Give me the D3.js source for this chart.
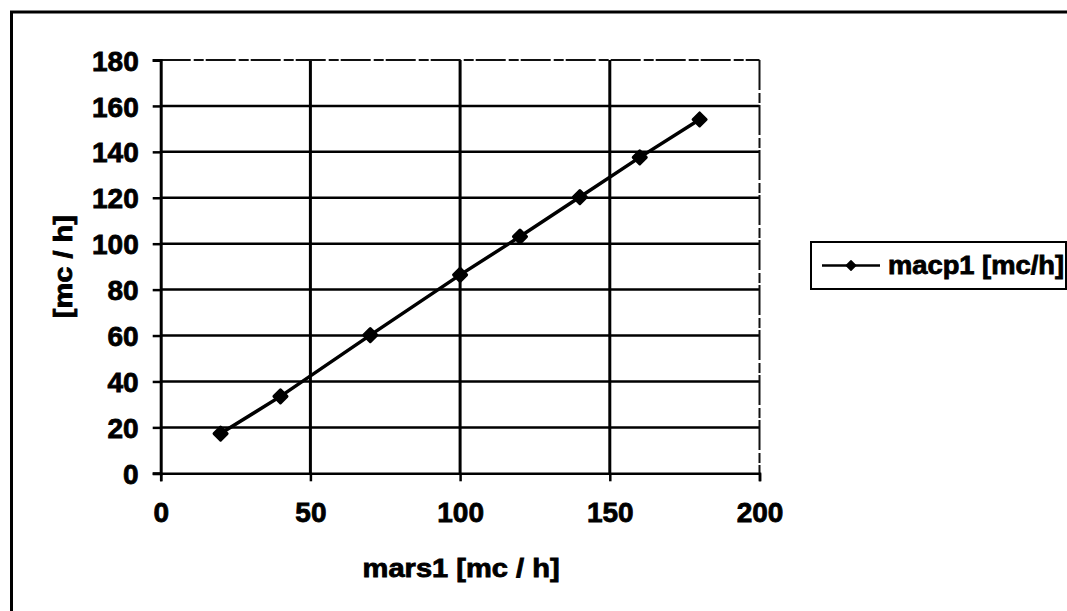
<!DOCTYPE html>
<html>
<head>
<meta charset="utf-8">
<script src="https://cdn.jsdelivr.net/npm/d3@7"></script>
<style>
  html, body { margin: 0; padding: 0; background: #fff; }
  svg { display: block; }
  text { font-family: "Liberation Sans", Arial, sans-serif; font-weight: bold; fill: #000;
         stroke: #000; stroke-width: 0.8px; }
</style>
</head>
<body>
<svg id="chart" width="1067" height="611"></svg>
<script>
// Flow readings: mars1 (x) against macp1 (y), both in mc/h
const xValues = [20, 40, 70, 100, 120, 140, 160, 180];
const yValues = [17.3, 33.5, 60.2, 86.4, 103.1, 120.3, 137.6, 154.1];
const xTicks = [0, 50, 100, 150, 200];
const yTicks = [0, 20, 40, 60, 80, 100, 120, 140, 160, 180];
const seriesName = "macp1 [mc/h]";
const xTitle = "mars1 [mc / h]";
const yTitle = "[mc / h]";

const svg = d3.select("#chart");
const W = 1067, H = 611;
const plot = { left: 160.7, right: 759.5, top: 60, bottom: 473.3 };

const x = d3.scaleLinear().domain([0, 200]).range([plot.left, plot.right]);
const y = d3.scaleLinear().domain([0, 180]).range([plot.bottom, plot.top]);

// outer chart frame (only top and left edges fall inside the view)
svg.append("line").attr("x1", 10).attr("x2", W).attr("y1", 12).attr("y2", 12)
  .attr("stroke", "#000").attr("stroke-width", 3);
svg.append("line").attr("x1", 11.5).attr("x2", 11.5).attr("y1", 11).attr("y2", H)
  .attr("stroke", "#000").attr("stroke-width", 3);

// horizontal gridlines
const gh = svg.append("g");
gh.selectAll("line").data(yTicks.filter(t => t > 0 && t < 180)).join("line")
  .attr("x1", plot.left).attr("x2", plot.right)
  .attr("y1", d => y(d)).attr("y2", d => y(d))
  .attr("stroke", "#000").attr("stroke-width", 2.5);
// vertical gridlines
const gv = svg.append("g");
gv.selectAll("line").data(xTicks.filter(t => t > 0 && t < 200)).join("line")
  .attr("x1", d => x(d)).attr("x2", d => x(d))
  .attr("y1", plot.top).attr("y2", plot.bottom)
  .attr("stroke", "#000").attr("stroke-width", 3);

// plot-area border on top and right
svg.append("line").attr("x1", plot.left).attr("x2", plot.right).attr("y1", y(180)).attr("y2", y(180))
  .attr("stroke", "#111").attr("stroke-width", 2).attr("stroke-dasharray", "30 3 10 2");
svg.append("line").attr("x1", x(200)).attr("x2", x(200)).attr("y1", plot.top).attr("y2", plot.bottom)
  .attr("stroke", "#111").attr("stroke-width", 2).attr("stroke-dasharray", "30 3 10 2");

// y axis
const yAxis = d3.axisLeft(y).tickValues(yTicks).tickSize(8).tickPadding(14).tickFormat(d3.format("d"));
const gy = svg.append("g").attr("transform", `translate(${plot.left},0)`).call(yAxis);
gy.select(".domain").attr("stroke", "#000").attr("stroke-width", 3);
gy.selectAll(".tick line").attr("stroke", "#000").attr("stroke-width", 2.5);
gy.selectAll(".tick text").style("font-size", "28px").attr("dy", "0.36em");

// x axis
const xAxis = d3.axisBottom(x).tickValues(xTicks).tickSize(8).tickPadding(21).tickFormat(d3.format("d"));
const gx = svg.append("g").attr("transform", `translate(0,${plot.bottom})`).call(xAxis);
gx.select(".domain").attr("stroke", "#000").attr("stroke-width", 2.5);
gx.selectAll(".tick line").attr("stroke", "#000").attr("stroke-width", 2.5);
gx.selectAll(".tick text").style("font-size", "28px").attr("dy", "0.71em");

// axis titles
svg.append("text").attr("x", (plot.left + plot.right) / 2 + 1).attr("y", 577)
  .attr("text-anchor", "middle").style("font-size", "25px")
  .attr("textLength", 197).attr("lengthAdjust", "spacingAndGlyphs").text(xTitle);
svg.append("text").attr("transform", `translate(72,${(plot.top + plot.bottom) / 2}) rotate(-90)`)
  .attr("text-anchor", "middle").style("font-size", "26px")
  .attr("textLength", 103).attr("lengthAdjust", "spacingAndGlyphs").text(yTitle);

// series line and diamond markers
const pts = xValues.map((v, i) => [v, yValues[i]]);
svg.append("path").datum(pts)
  .attr("d", d3.line().x(d => x(d[0])).y(d => y(d[1])))
  .attr("fill", "none").attr("stroke", "#000").attr("stroke-width", 3.5);
const diamond = d3.symbol(d3.symbolSquare, 85);
svg.append("g").selectAll("path").data(pts).join("path")
  .attr("transform", d => `translate(${x(d[0])},${y(d[1])}) rotate(45)`)
  .attr("d", diamond).attr("fill", "#000")
  .attr("stroke", "#000").attr("stroke-width", 3).attr("stroke-linejoin", "round");

// legend
const lg = svg.append("g");
lg.append("rect").attr("x", 811).attr("y", 242).attr("width", 255).attr("height", 47)
  .attr("fill", "#fff").attr("stroke", "#000").attr("stroke-width", 2);
lg.append("line").attr("x1", 822).attr("x2", 880).attr("y1", 265.5).attr("y2", 265.5)
  .attr("stroke", "#000").attr("stroke-width", 2.5);
lg.append("path").attr("transform", "translate(851,265.5) rotate(45)")
  .attr("d", d3.symbol(d3.symbolSquare, 45)).attr("fill", "#000")
  .attr("stroke", "#000").attr("stroke-width", 1.5).attr("stroke-linejoin", "round");
lg.append("text").attr("x", 888).attr("y", 274).style("font-size", "25px")
  .attr("textLength", 176).attr("lengthAdjust", "spacingAndGlyphs").text(seriesName);
</script>
</body>
</html>
